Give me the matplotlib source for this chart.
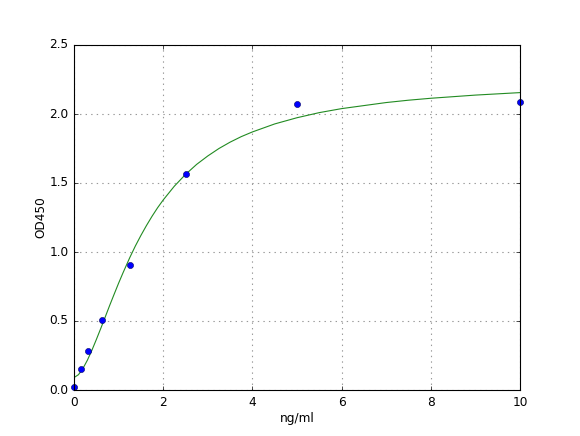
import numpy as np
import matplotlib
matplotlib.use("Agg")
import matplotlib.pyplot as plt

# standard points
conc = [0, 0.156, 0.3125, 0.625, 1.25, 2.5, 5, 10]
od = [0.025, 0.152, 0.282, 0.505, 0.908, 1.565, 2.07, 2.087]

# fitted curve
fit_x = [0, 0.1, 0.2, 0.3, 0.4, 0.5, 0.6, 0.7, 0.8, 0.9, 1.0, 1.1, 1.25,
         1.375, 1.5, 1.625, 1.75, 1.875, 2.0, 2.25, 2.5, 2.75, 3.0, 3.25,
         3.5, 3.75, 4.0, 4.5, 5.0, 5.5, 6.0, 7.0, 7.5, 8.0, 9.0, 10.0]
fit_y = [0.09, 0.111, 0.156, 0.216, 0.287, 0.365, 0.446, 0.529, 0.613,
         0.694, 0.774, 0.850, 0.959, 1.043, 1.120, 1.192, 1.259, 1.321,
         1.377, 1.477, 1.562, 1.635, 1.696, 1.750, 1.796, 1.836, 1.870,
         1.928, 1.973, 2.010, 2.039, 2.083, 2.100, 2.114, 2.137, 2.155]

plt.style.use('classic')
plt.rcParams['font.size'] = 8.7
plt.rcParams['xtick.major.size'] = 2.9
plt.rcParams['ytick.major.size'] = 2.9
plt.rcParams['xtick.minor.size'] = 1.5
plt.rcParams['ytick.minor.size'] = 1.5

fig = plt.figure(figsize=(5.8, 4.36), dpi=100)
ax = fig.add_axes([74/580, 46/436, 446/580, 345/436])
ax.set_axisbelow(True)

ax.plot(fit_x, fit_y, color='#228b22', lw=0.8)
ax.plot(conc, od, 'o', color='b', mec='#000066', mew=0.4, ms=4.4, clip_on=False)

ax.set_xlim(0, 10)
ax.set_ylim(0, 2.5)
ax.set_xticks([0, 2, 4, 6, 8, 10])
ax.set_yticks([0, 0.5, 1.0, 1.5, 2.0, 2.5])
ax.grid(True, ls=':', color='#999999', lw=0.8)
ax.set_xlabel('ng/ml', labelpad=2.5)
ax.set_ylabel('OD450', labelpad=1.5)
for s in ax.spines.values():
    s.set_linewidth(0.8)
    s.set_zorder(3)

fig.savefig('out.png', dpi=100)
